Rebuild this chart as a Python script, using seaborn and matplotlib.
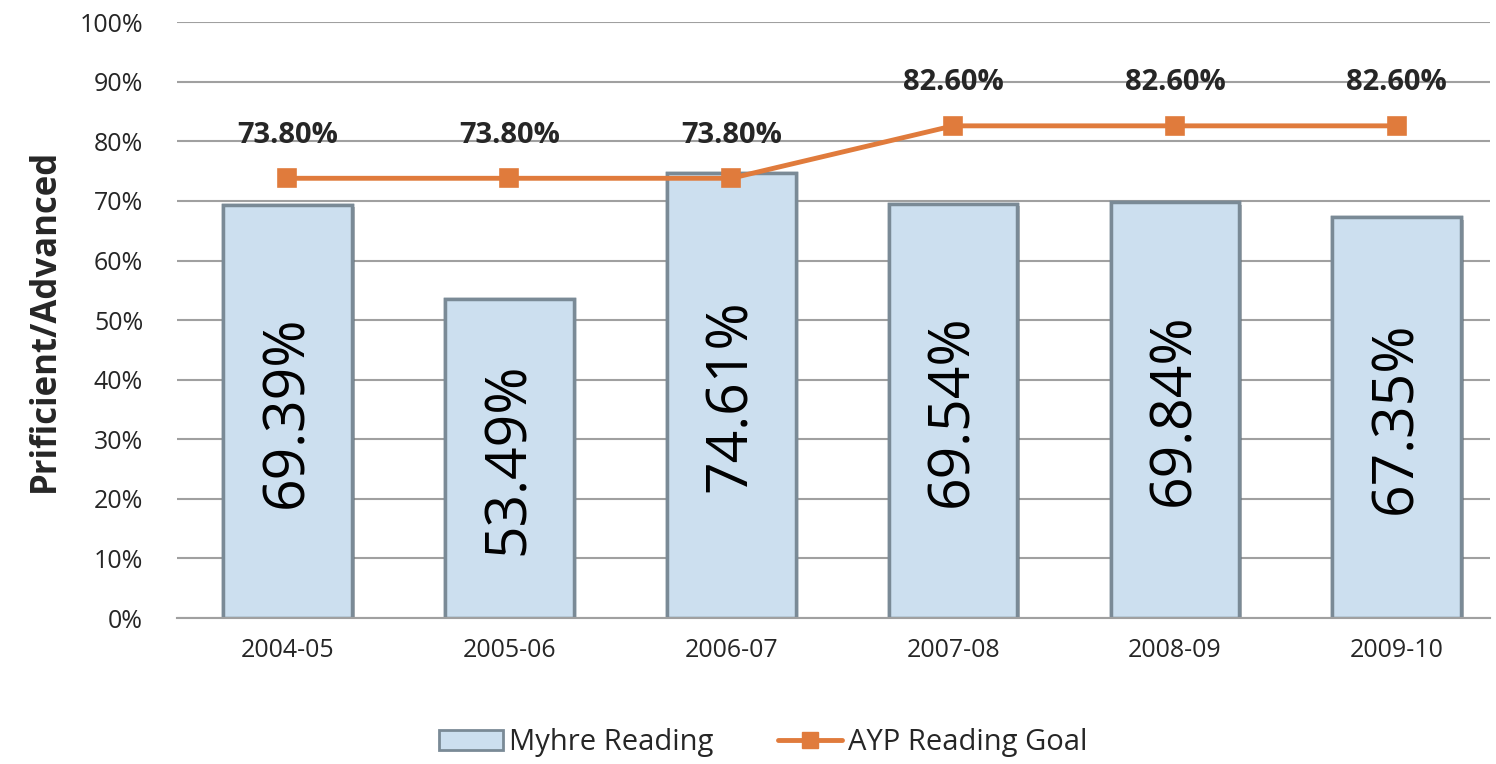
import matplotlib
matplotlib.use("Agg")
import matplotlib.pyplot as plt
import matplotlib.patheffects as pe
import seaborn as sns
from matplotlib.lines import Line2D
from matplotlib.patches import Patch

years = ["2004-05", "2005-06", "2006-07", "2007-08", "2008-09", "2009-10"]
reading = [69.39, 53.49, 74.61, 69.54, 69.84, 67.35]
goal = [73.8, 73.8, 73.8, 82.6, 82.6, 82.6]

sns.set_style("white")
plt.rcParams["font.family"] = ["Open Sans", "DejaVu Sans"]

bar_color = "#CCDFEF"
bar_edge = "#7A8A96"
line_color = "#E07B3C"

fig = plt.figure(figsize=(14.96, 7.64), dpi=100)
ax = fig.add_axes([0.118, 0.191, 0.878, 0.780])

sns.barplot(x=years, y=reading, color=bar_color, width=0.58,
            edgecolor=bar_edge, linewidth=2.5, saturation=1, ax=ax, zorder=2)
for p in ax.patches:
    p.set_path_effects([pe.withSimplePatchShadow(offset=(2, -2), alpha=0.35), pe.Normal()])

sns.pointplot(x=years, y=goal, color=line_color, marker="s", markersize=11,
              linewidth=3.5, ax=ax, zorder=4)

# value labels inside bars
for i, v in enumerate(reading):
    ax.text(i, v / 2, f"{v:.2f}%", rotation=90, ha="center", va="center",
            fontsize=41, color="black", zorder=5)

# goal labels above markers
for i, g in enumerate(goal):
    ax.annotate(f"{g:.2f}%", (i, g), xytext=(0, 31), textcoords="offset points",
                ha="center", va="center", fontsize=21, fontweight="bold", zorder=5)

ax.set_ylim(0, 100)
ax.set_xlim(-0.5, 5.42)
ax.set_yticks(range(0, 101, 10))
ax.set_yticklabels([f"{t}%" for t in range(0, 101, 10)], fontsize=18)
ax.tick_params(axis="x", labelsize=18, length=0, pad=14)
ax.tick_params(axis="y", length=0, pad=24)
ax.yaxis.grid(True, color="#A0A0A0", linewidth=1.5, zorder=0)
ax.set_axisbelow(True)
for s in ["top", "right", "left"]:
    ax.spines[s].set_visible(False)
ax.spines["bottom"].set_color("#A0A0A0")
ax.spines["bottom"].set_linewidth(1.5)
ax.set_ylabel("Prificient/Advanced", fontsize=25, fontweight="bold", labelpad=12)
ax.set_xlabel("")

handles = [
    Patch(facecolor=bar_color, edgecolor=bar_edge, linewidth=2, label="Myhre Reading"),
    Line2D([0], [0], color=line_color, linewidth=3.5, marker="s", markersize=11,
           label="AYP Reading Goal"),
]
fig.legend(handles=handles, loc="center", bbox_to_anchor=(0.51, 0.028), ncol=2,
           frameon=False, fontsize=21, handlelength=2.2, handletextpad=0.2,
           columnspacing=2.2)

fig.savefig("out.png", dpi=100)
